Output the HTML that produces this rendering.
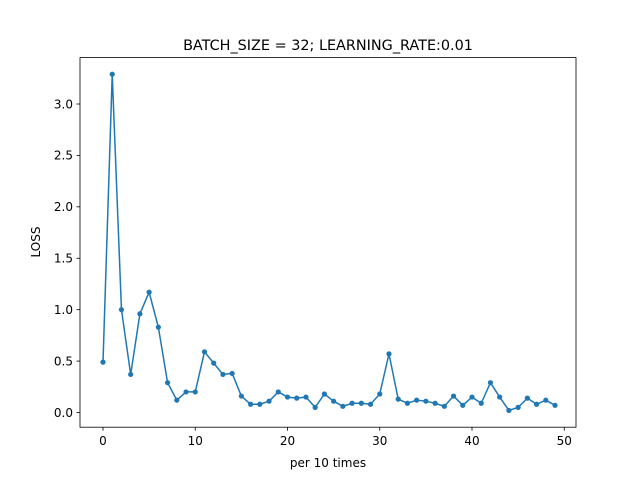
<!DOCTYPE html>
<html><head><meta charset="utf-8"><style>
body{margin:0;background:#fff;}
svg text{font-family:"DejaVu Sans","Liberation Sans",sans-serif;fill:#000;}
</style></head><body>
<svg id="chart" width="640" height="480" xmlns="http://www.w3.org/2000/svg">
<text x="328" y="50" font-size="14.4" text-anchor="middle">BATCH_SIZE = 32; LEARNING_RATE:0.01</text>
<g id="axes"></g>
<rect x="80" y="57.6" width="496" height="369.6" fill="none" stroke="#000" stroke-width="0.8"/>
<text x="328" y="467" font-size="12" text-anchor="middle">per 10 times</text>
<text x="40" y="242" font-size="12" text-anchor="middle" transform="rotate(-90 40 242)">LOSS</text>
</svg>
<script>
const lossValues=[0.49,3.29,1.00,0.37,0.96,1.17,0.83,0.29,0.12,0.20,0.20,0.59,0.48,0.37,0.38,0.16,0.08,0.08,0.11,0.20,0.15,0.14,0.15,0.05,0.18,0.11,0.06,0.09,0.09,0.08,0.18,0.57,0.13,0.09,0.12,0.11,0.09,0.06,0.16,0.07,0.15,0.09,0.29,0.15,0.02,0.05,0.14,0.08,0.12,0.07];
const xTicks=[0,10,20,30,40,50];
const yTicks=[0.0,0.5,1.0,1.5,2.0,2.5,3.0];
const yTickLabels=["0.0","0.5","1.0","1.5","2.0","2.5","3.0"];
const NS="http://www.w3.org/2000/svg";
const g=document.getElementById('axes');
const xs=v=>103+v*9.225;
const ys=v=>412.5-v*102.83;
function mk(t,a){const e=document.createElementNS(NS,t);for(const k in a)e.setAttribute(k,a[k]);g.appendChild(e);return e;}
xTicks.forEach(t=>{
 const l=mk('line',{x1:xs(t),x2:xs(t),y1:427.2,y2:430.7,stroke:'#000','stroke-width':0.8});
 
 
 const tx=mk('text',{x:xs(t),y:445,'font-size':12,'text-anchor':'middle'});tx.textContent=t;
 
 
});
yTicks.forEach((t,i)=>{
 const l=mk('line',{x1:76.5,x2:80,y1:ys(t),y2:ys(t),stroke:'#000','stroke-width':0.8});
 
 
 const tx=mk('text',{x:73,y:ys(t)+4.3,'font-size':12,'text-anchor':'end'});tx.textContent=yTickLabels[i];
 
 
});
const pts=lossValues.map((v,i)=>xs(i)+','+ys(v)).join(' ');
const pl=mk('polyline',{points:pts,fill:'none',stroke:'#1f77b4','stroke-width':1.5,'stroke-linejoin':'round'});


lossValues.forEach((v,i)=>{
 const c=mk('circle',{cx:xs(i),cy:ys(v),r:2.6,fill:'#1f77b4'});
 
 
});
</script>
</body></html>
